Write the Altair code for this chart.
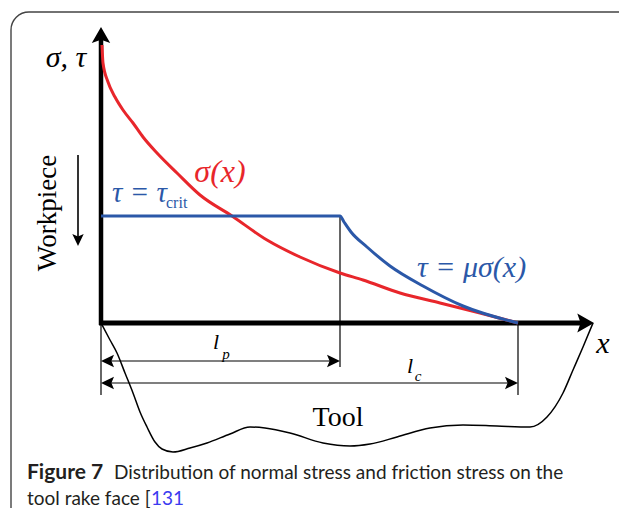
import altair as alt
import pandas as pd

# Diagram coordinates: origin at the axes intersection, x to the right, y upwards
# (1 unit ~ 1 px of the original figure). x = l_c at 417, x = l_p at 239.
sigma_x = [1, 2, 7, 14, 22, 32, 42, 56, 76, 99, 131, 166, 199, 239, 262, 299, 339, 379, 417]
sigma_y = [278, 260, 241, 226, 213, 200, 186, 170, 150, 128, 107, 83, 66, 50, 43, 30, 20, 10, 0]

tau_x = [0, 239, 243, 250, 266, 289, 322, 362, 417]
tau_y = [107, 107, 101, 91, 76, 57, 37, 17, 0]

tool_x = [0, 9, 16, 24, 32, 39, 46, 54, 61, 72, 89, 106, 129, 149, 164, 189, 222, 249,
          269, 296, 329, 362, 396, 429, 446, 462, 472, 482, 492]
tool_y = [0, -17, -30, -50, -70, -89, -104, -119, -126, -129, -125, -120, -111, -104, -105,
          -110, -120, -123, -121, -114, -105, -102, -103, -104, -94, -70, -47, -24, 0]

l_p = 239
l_c = 417

RED = "#e8262b"
BLUE = "#2b58a8"
BLACK = "#000000"

XS = alt.Scale(domain=[-93, 518], nice=False, zero=False)
YS = alt.Scale(domain=[-185, 315], nice=False, zero=False)


def X(f="x"):
    return alt.X(f"{f}:Q", scale=XS, axis=None)


def Y(f="y"):
    return alt.Y(f"{f}:Q", scale=YS, axis=None)


# ---- curves ----
curve_rows = []
for i, (a, b) in enumerate(zip(sigma_x, sigma_y)):
    curve_rows.append(dict(id="sigma", o=i, x=a, y=b, c=RED))
for i, (a, b) in enumerate(zip(tau_x, tau_y)):
    curve_rows.append(dict(id="tau", o=i, x=a, y=b, c=BLUE))
curves = alt.Chart(pd.DataFrame(curve_rows)).mark_line(
    interpolate="monotone", strokeWidth=3
).encode(x=X(), y=Y(), detail="id:N", order="o:Q", color=alt.Color("c:N", scale=None))

tool_df = pd.DataFrame(dict(x=tool_x, y=tool_y, o=list(range(len(tool_x)))))
tool = alt.Chart(tool_df).mark_line(
    interpolate="monotone", strokeWidth=1.5, color=BLACK
).encode(x=X(), y=Y(), order="o:Q")

# ---- straight segments ----
segs = [
    ("yaxis", 0, -2, 0, 284, 4.5),
    ("xaxis", -2, 0, 480, 0, 5),
    ("v0", 0, 0, 0, -72, 1.2),
    ("vp", l_p, 107, l_p, -44, 1.2),
    ("vc", l_c, 0, l_c, -72, 1.2),
    ("lp", 3, -38, l_p - 3, -38, 1.2),
    ("lc", 3, -60, l_c - 3, -60, 1.2),
    ("wp", -23, 168, -23, 80, 1.6),
]
seg_rows = []
for name, x1, y1, x2, y2, w in segs:
    seg_rows.append(dict(id=name, o=0, x=x1, y=y1, w=w))
    seg_rows.append(dict(id=name, o=1, x=x2, y=y2, w=w))
lines = alt.Chart(pd.DataFrame(seg_rows)).mark_line(color=BLACK, strokeCap="butt").encode(
    x=X(), y=Y(), detail="id:N", order="o:Q", strokeWidth=alt.StrokeWidth("w:Q", scale=None)
)

# ---- arrow heads ----
BIG = "M0,0 L-2,-1.15 L-1.6,0 L-2,1.15 Z"
SMALL = "M0,0 L-2,-0.95 L-1.6,0 L-2,0.95 Z"
heads = pd.DataFrame([
    dict(x=0, y=296, a=270, s=256, sh=BIG),
    dict(x=493, y=0, a=0, s=280, sh=BIG),
    dict(x=0, y=-38, a=180, s=169, sh=SMALL),
    dict(x=l_p, y=-38, a=0, s=169, sh=SMALL),
    dict(x=0, y=-60, a=180, s=169, sh=SMALL),
    dict(x=l_c, y=-60, a=0, s=169, sh=SMALL),
    dict(x=-23, y=77, a=90, s=144, sh=SMALL),
])
arrows = alt.Chart(heads).mark_point(filled=True, color=BLACK, opacity=1, strokeWidth=0).encode(
    x=X(), y=Y(),
    shape=alt.Shape("sh:N", scale=None),
    size=alt.Size("s:Q", scale=None),
    angle=alt.Angle("a:Q", scale=None),
)

# ---- frame ----
frame = alt.Chart(pd.DataFrame([dict(x=-90, x2=700, y=311, y2=-400)])).mark_rect(
    fill="white", fillOpacity=0, stroke="#444444", strokeWidth=1.4, cornerRadius=18, clip=True
).encode(x=X(), x2="x2:Q", y=Y(), y2="y2:Q")


def text_layer(rows, font, style="normal", weight="normal", align="center", angle=0):
    df = pd.DataFrame(rows, columns=["t", "x", "y", "s", "c"])
    return alt.Chart(df).mark_text(
        font=font, fontStyle=style, fontWeight=weight, align=align, baseline="middle", angle=angle
    ).encode(
        x=X(), y=Y(), text="t:N",
        size=alt.Size("s:Q", scale=None),
        color=alt.Color("c:N", scale=None),
    )


SERIF = "Liberation Serif"
SANS = "Lato"

t_italic_c = text_layer([
    ("σ, τ", -35, 265, 30, BLACK),
    ("x", 502, -21, 30, BLACK),
    ("σ(x)", 119, 151, 32, RED),
    ("l", 115, -19, 22, BLACK),
    ("l", 309, -43, 22, BLACK),
], SERIF, style="italic")
t_italic_small = text_layer([
    ("p", 125, -31, 15, BLACK),
    ("c", 317, -53, 15, BLACK),
], SERIF, style="italic")
t_italic_l = text_layer([
    ("τ = τ", 11, 130, 29, BLUE),
    ("τ = μσ(x)", 316, 55, 30, BLUE),
], SERIF, style="italic", align="left")
t_serif_l = text_layer([
    ("crit", 65, 120, 16, BLUE),
], SERIF, align="left")
t_serif_c = text_layer([
    ("Tool", 237, -95, 28, BLACK),
], SERIF)
t_work = text_layer([
    ("Workpiece", -53, 110, 27, BLACK),
], SERIF, angle=270)

CAP = "#231f20"
cap_bold = text_layer([
    ("Figure 7", -74, -150, 21, CAP),
], SANS, weight="bold", align="left")
cap_reg = text_layer([
    ("Distribution of normal stress and friction stress on the", 13, -150, 19, CAP),
    ("tool rake face [", -74, -176, 19, CAP),
    ("131", 50, -176, 19, "#3b3bf0"),
], SANS, align="left")

chart = alt.layer(
    frame, tool, lines, curves, arrows,
    t_italic_c, t_italic_small, t_italic_l, t_serif_l, t_serif_c, t_work,
    cap_bold, cap_reg,
).properties(
    width=611, height=500, padding=0, autosize="none", background="white"
).configure_view(stroke=None)

chart.save("out.html", embed_options={"renderer": "svg", "actions": False})
